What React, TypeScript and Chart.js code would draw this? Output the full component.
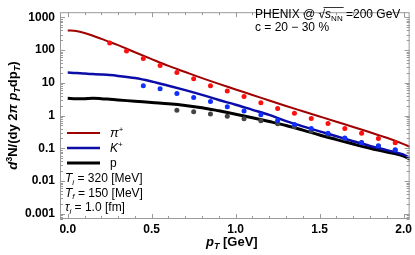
import React, { useEffect, useRef } from "react";
import { Chart, registerables } from "chart.js";

Chart.register(...registerables);

// theory curves
const pTCurve = [0, 0.05, 0.1, 0.15, 0.2, 0.25, 0.3, 0.4, 0.5, 0.6, 0.7, 0.8, 0.9, 1.0, 1.1, 1.2, 1.3, 1.4, 1.5, 1.6, 1.7, 1.8, 1.9, 2.0, 2.04];
const piCurve = [398, 385, 335, 275, 220, 178, 142, 86, 53, 33, 21.5, 14, 9.3, 6.3, 4.25, 2.9, 1.97, 1.36, 0.94, 0.65, 0.45, 0.31, 0.21, 0.135, 0.11];
const kCurve = [20.6, 20, 19.2, 18.6, 18, 17.3, 16.3, 14, 11, 8.2, 6.0, 4.3, 3.0, 2.15, 1.5, 1.05, 0.68, 0.47, 0.33, 0.235, 0.165, 0.118, 0.088, 0.064, 0.05];
const pCurve = [3.4, 3.25, 3.3, 3.4, 3.3, 3.15, 3.0, 2.75, 2.5, 2.3, 2.05, 1.75, 1.4, 1.1, 0.86, 0.66, 0.5, 0.36, 0.255, 0.185, 0.135, 0.1, 0.077, 0.058, 0.046];

// PHENIX data
const pTPi = [0.25, 0.35, 0.45, 0.55, 0.65, 0.75, 0.85, 0.95, 1.05, 1.15, 1.25, 1.35, 1.45, 1.55, 1.65, 1.75, 1.85, 1.95, 2.05];
const piData = [166, 93.6, 55.3, 34.2, 20.6, 13.3, 8.2, 5.65, 3.8, 2.46, 1.66, 1.19, 0.82, 0.57, 0.4, 0.29, 0.2, 0.148, 0.107];
const pTK = [0.45, 0.55, 0.65, 0.75, 0.85, 0.95, 1.05, 1.15, 1.25, 1.35, 1.45, 1.55, 1.65, 1.75, 1.85, 1.95];
const kData = [8.2, 6.6, 4.75, 3.55, 2.68, 1.85, 1.39, 1.07, 0.71, 0.53, 0.4, 0.29, 0.206, 0.148, 0.12, 0.09];
const pTP = [0.65, 0.75, 0.85, 0.95, 1.05, 1.15, 1.25, 1.35, 1.45, 1.55, 1.65, 1.75, 1.85, 1.95];
const pData = [1.46, 1.3, 1.12, 0.95, 0.8, 0.69, 0.56, 0.46, 0.34, 0.27, 0.2, 0.15, 0.115, 0.088];

// ticks
const yTickValues = [0.001, 0.01, 0.1, 1, 10, 100, 1000];
const yTickLabels = ["0.001", "0.01", "0.1", "1", "10", "100", "1000"];
const xTickValues = [0, 0.5, 1, 1.5, 2];
const xTickLabels = ["0.0", "0.5", "1.0", "1.5", "2.0"];

const FF = "'Liberation Sans', Arial, Helvetica, sans-serif";
const RED_LINE = "#a00000";
const BLUE_LINE = "#0c0ca8";
const BLACK_LINE = "#000000";
const RED_PT = "#ff1010";
const BLUE_PT = "#1030ff";
const BLACK_PT = "#444444";

type Seg = { t: string; f: string; dy?: number };

function richWidth(ctx: CanvasRenderingContext2D, segs: Seg[]) {
  let w = 0;
  for (const s of segs) {
    ctx.font = s.f;
    w += ctx.measureText(s.t).width;
  }
  return w;
}

function drawRich(ctx: CanvasRenderingContext2D, x: number, y: number, segs: Seg[]) {
  let cx = x;
  const pos: number[] = [];
  for (const s of segs) {
    ctx.font = s.f;
    pos.push(cx);
    ctx.fillText(s.t, cx, y + (s.dy || 0));
    cx += ctx.measureText(s.t).width;
  }
  pos.push(cx);
  return pos;
}

const framePlugin = {
  id: "frameTicks",
  afterDatasetsDraw(chart: any) {
    const { ctx, chartArea: a, scales } = chart;
    const x = scales.x;
    const y = scales.y;
    ctx.save();
    ctx.strokeStyle = "#9a9a9a";
    ctx.lineWidth = 1;
    ctx.strokeRect(a.left + 0.5, a.top + 0.5, a.right - a.left - 1, a.bottom - a.top - 1);
    const seg = (x1: number, y1: number, x2: number, y2: number) => {
      ctx.beginPath();
      ctx.moveTo(x1, y1);
      ctx.lineTo(x2, y2);
      ctx.stroke();
    };
    for (let e = -4; e <= 3; e++) {
      for (let m = 1; m <= 9; m++) {
        const v = m * Math.pow(10, e);
        if (v < y.min || v > y.max) continue;
        const py = Math.round(y.getPixelForValue(v)) + 0.5;
        const len = m === 1 ? 5 : 3;
        seg(a.left, py, a.left + len, py);
        seg(a.right, py, a.right - len, py);
      }
    }
    for (let i = 0; i <= 20; i++) {
      const v = i / 10;
      const px = Math.round(x.getPixelForValue(v)) + 0.5;
      const len = i % 5 === 0 ? 5 : 3;
      seg(px, a.bottom, px, a.bottom - len);
      seg(px, a.top, px, a.top + len);
    }
    ctx.restore();
  },
  afterDraw(chart: any) {
    const { ctx, chartArea: a } = chart;
    ctx.save();
    ctx.fillStyle = "#000";
    ctx.textBaseline = "alphabetic";
    ctx.textAlign = "left";

    // y-axis title (rotated)
    const B = `bold 13px ${FF}`;
    const BI = `italic bold 13px ${FF}`;
    const ySegs: Seg[] = [
      { t: "d", f: BI },
      { t: "3", f: `bold 9px ${FF}`, dy: -5 },
      { t: "N/(dy 2", f: B },
      { t: "π", f: BI },
      { t: " ", f: B },
      { t: "p", f: BI },
      { t: "T", f: `italic bold 9px ${FF}`, dy: 3 },
      { t: "dp", f: B },
      { t: "T", f: `italic bold 9px ${FF}`, dy: 3 },
      { t: ")", f: B },
    ];
    ctx.save();
    ctx.translate(12, (a.top + a.bottom) / 2);
    ctx.rotate(-Math.PI / 2);
    const yw = richWidth(ctx, ySegs);
    drawRich(ctx, -yw / 2, 4.5, ySegs);
    ctx.restore();

    // x-axis title
    const xSegs: Seg[] = [
      { t: "p", f: BI },
      { t: "T", f: `italic bold 9px ${FF}`, dy: 3 },
      { t: " [GeV]", f: B },
    ];
    const xw = richWidth(ctx, xSegs);
    drawRich(ctx, (a.left + a.right) / 2 - 3 - xw / 2, 245.5, xSegs);

    // annotation top right
    const R = `12px ${FF}`;
    const RI = `italic 12px ${FF}`;
    const S = `8px ${FF}`;
    const p1 = drawRich(ctx, 255, 18, [
      { t: "PHENIX @ ", f: R },
      { t: "√", f: R },
      { t: "s", f: RI },
      { t: "NN", f: S, dy: 2.5 },
      { t: " =200 GeV", f: R },
    ]);
    ctx.strokeStyle = "#000";
    ctx.lineWidth = 0.8;
    ctx.beginPath();
    ctx.moveTo(p1[1] + 5, 7.5);
    ctx.lineTo(p1[4] + 1, 7.5);
    ctx.stroke();
    drawRich(ctx, 255, 31, [{ t: "c = 20 − 30 %", f: R }]);

    // legend
    const legend: [string, number, number, Seg[]][] = [
      [RED_LINE, 2, 133, [{ t: "π", f: `italic 13px ${FF}` }, { t: "+", f: S, dy: -5 }]],
      [BLUE_LINE, 2.5, 148, [{ t: "K", f: RI }, { t: "+", f: S, dy: -5 }]],
      [BLACK_LINE, 3, 163, [{ t: "p", f: R }]],
    ];
    for (const [col, lw, ly, segs] of legend) {
      ctx.strokeStyle = col;
      ctx.lineWidth = lw;
      ctx.beginPath();
      ctx.moveTo(67, ly);
      ctx.lineTo(100, ly);
      ctx.stroke();
      drawRich(ctx, 110, ly + 4, segs);
    }
    const sub = `italic 8px ${FF}`;
    drawRich(ctx, 65, 182, [
      { t: "T", f: RI },
      { t: "i", f: sub, dy: 2.5 },
      { t: " = 320 [MeV]", f: R },
    ]);
    drawRich(ctx, 65, 196.5, [
      { t: "T", f: RI },
      { t: "f", f: sub, dy: 2.5 },
      { t: " = 150 [MeV]", f: R },
    ]);
    drawRich(ctx, 65, 211, [
      { t: "τ", f: RI },
      { t: "i", f: sub, dy: 2.5 },
      { t: " = 1.0 [fm]", f: R },
    ]);
    ctx.restore();
  },
};

function toXY(xs: number[], ys: number[]) {
  return xs.map((x, i) => ({ x, y: ys[i] }));
}

export default function App() {
  const ref = useRef<HTMLCanvasElement | null>(null);
  useEffect(() => {
    if (!ref.current) return;
    const lineDs = (data: number[], color: string, width: number, order: number) => ({
      data: toXY(pTCurve, data),
      showLine: true,
      borderColor: color,
      borderWidth: width,
      pointRadius: 0,
      cubicInterpolationMode: "monotone" as const,
      clip: 0,
      order,
    });
    const ptDs = (xs: number[], ys: number[], color: string, order: number) => ({
      data: toXY(xs, ys),
      showLine: false,
      backgroundColor: color,
      borderWidth: 0,
      pointRadius: 2.5,
      clip: 0,
      order,
    });
    const chart = new Chart(ref.current, {
      type: "scatter",
      data: {
        datasets: [
          ptDs(pTPi, piData, RED_PT, 1),
          lineDs(piCurve, RED_LINE, 2, 2),
          ptDs(pTK, kData, BLUE_PT, 3),
          lineDs(kCurve, BLUE_LINE, 2.5, 4),
          ptDs(pTP, pData, BLACK_PT, 5),
          lineDs(pCurve, BLACK_LINE, 3, 6),
        ] as any,
      },
      options: {
        animation: false,
        responsive: false,
        devicePixelRatio: 1,
        layout: { padding: { top: 1, right: 1, left: 0, bottom: 0 } },
        plugins: { legend: { display: false }, tooltip: { enabled: false } },
        scales: {
          x: {
            type: "linear",
            min: -0.046,
            max: 2.036,
            grid: { display: false, drawTicks: false },
            border: { display: false },
            afterFit: (s: any) => {
              s.height = 36;
            },
            afterBuildTicks: (s: any) => {
              s.ticks = xTickValues.map((v) => ({ value: v }));
            },
            ticks: {
              padding: 3,
              color: "#000",
              font: { family: FF, size: 12, weight: "bold" },
              maxRotation: 0,
              autoSkip: false,
              callback: (_v: any, i: number) => xTickLabels[i],
            },
          },
          y: {
            type: "logarithmic",
            min: 0.000693,
            max: 1443,
            grid: { display: false, drawTicks: false },
            border: { display: false },
            afterFit: (s: any) => {
              s.width = 60;
            },
            afterBuildTicks: (s: any) => {
              s.ticks = yTickValues.map((v) => ({ value: v }));
            },
            ticks: {
              padding: 5,
              color: "#000",
              font: { family: FF, size: 12, weight: "bold" },
              autoSkip: false,
              callback: (_v: any, i: number) => yTickLabels[i],
            },
          },
        },
      } as any,
      plugins: [framePlugin],
    });
    return () => chart.destroy();
  }, []);
  return (
    <div style={{ position: "absolute", left: 0, top: 0, width: 415, height: 255, background: "#fff" }}>
      <canvas ref={ref} width={415} height={255} />
    </div>
  );
}
